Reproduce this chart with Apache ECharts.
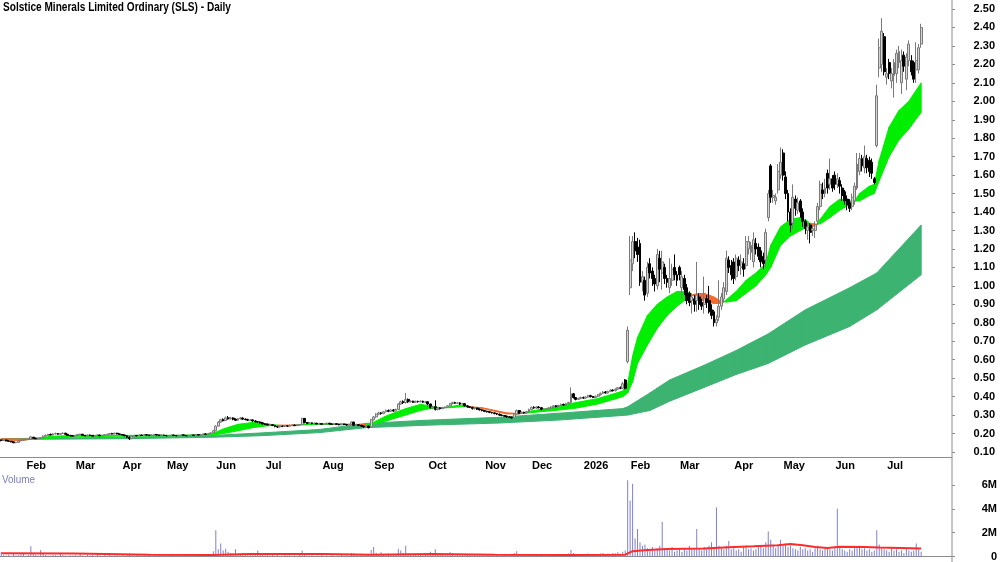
<!DOCTYPE html>
<html>
<head>
<meta charset="utf-8">
<title>Solstice Minerals Limited Ordinary (SLS) - Daily</title>
<script src="https://cdn.jsdelivr.net/npm/echarts@6/dist/echarts.min.js"></script>
<style>
html, body { margin: 0; padding: 0; background: #fff; }
#chart { width: 1000px; height: 562px; }
</style>
</head>
<body>
<div id="chart"></div>
<script>
// trading calendar (weekdays less ASX holidays and days with no trades)
var startDay = '2025-01-20';
var endDay = '2026-07-22';
var holidays = ['2025-01-27', '2025-04-18', '2025-04-21', '2025-04-25', '2025-06-09', '2025-12-25', '2025-12-26',
    '2026-01-01', '2026-01-26', '2026-04-03', '2026-04-06', '2026-06-08'];
var noTrade = ['2025-03-12', '2025-03-25', '2025-04-15', '2025-05-07', '2025-05-21', '2025-11-12', '2026-01-02'];
var padDays = 12; // empty room on the right of the last bar

var monthNames = ['Jan', 'Feb', 'Mar', 'Apr', 'May', 'Jun', 'Jul', 'Aug', 'Sep', 'Oct', 'Nov', 'Dec'];

// daily bars: [open, close, low, high]
var candles = [
    // Jan 2025
    [0.165,0.162,0.158,0.168],[0.162,0.165,0.160,0.168],[0.165,0.160,0.158,0.166],[0.160,0.158,0.155,0.162],[0.158,0.155,0.152,0.160],
    [0.155,0.150,0.148,0.156],[0.150,0.152,0.148,0.155],[0.152,0.160,0.150,0.162],[0.160,0.165,0.158,0.168],
    // Feb
    [0.165,0.166,0.162,0.170],[0.166,0.168,0.164,0.170],[0.168,0.170,0.165,0.172],[0.170,0.182,0.168,0.185],[0.180,0.175,0.172,0.182],
    [0.175,0.172,0.170,0.178],[0.172,0.175,0.170,0.178],[0.175,0.178,0.172,0.180],[0.178,0.186,0.176,0.190],[0.186,0.190,0.184,0.195],
    [0.190,0.195,0.188,0.198],[0.195,0.192,0.190,0.200],[0.192,0.198,0.190,0.202],[0.198,0.200,0.195,0.205],[0.200,0.196,0.193,0.202],
    [0.196,0.200,0.194,0.203],[0.200,0.202,0.197,0.206],[0.202,0.196,0.194,0.204],[0.196,0.190,0.188,0.198],[0.190,0.188,0.185,0.193],
    // Mar
    [0.188,0.186,0.183,0.190],[0.186,0.190,0.184,0.192],[0.190,0.195,0.188,0.198],[0.195,0.196,0.192,0.199],[0.196,0.190,0.188,0.198],
    [0.190,0.188,0.185,0.192],[0.188,0.192,0.186,0.194],[0.192,0.190,0.187,0.194],[0.190,0.186,0.184,0.192],[0.186,0.190,0.184,0.192],
    [0.190,0.192,0.188,0.195],[0.192,0.188,0.186,0.194],[0.188,0.190,0.186,0.193],[0.190,0.194,0.188,0.196],[0.194,0.196,0.192,0.198],
    [0.196,0.200,0.194,0.203],[0.200,0.198,0.195,0.204],[0.198,0.202,0.196,0.205],[0.202,0.198,0.195,0.204],
    // Apr
    [0.198,0.195,0.192,0.200],[0.195,0.192,0.190,0.197],[0.192,0.188,0.185,0.194],[0.188,0.180,0.175,0.190],[0.180,0.172,0.165,0.185],
    [0.172,0.185,0.170,0.188],[0.185,0.190,0.183,0.192],[0.190,0.188,0.185,0.192],[0.188,0.192,0.186,0.194],[0.192,0.190,0.188,0.194],
    [0.190,0.194,0.188,0.196],[0.194,0.192,0.189,0.196],[0.192,0.190,0.188,0.194],[0.190,0.192,0.188,0.195],[0.192,0.195,0.190,0.197],
    [0.195,0.192,0.190,0.197],[0.192,0.190,0.188,0.194],[0.190,0.192,0.188,0.195],
    // May
    [0.192,0.190,0.188,0.194],[0.190,0.188,0.186,0.192],[0.188,0.190,0.186,0.192],[0.190,0.192,0.188,0.194],[0.192,0.190,0.188,0.194],
    [0.190,0.188,0.186,0.192],[0.188,0.190,0.186,0.193],[0.190,0.193,0.188,0.195],[0.193,0.190,0.188,0.195],[0.190,0.188,0.186,0.192],
    [0.188,0.190,0.186,0.192],[0.190,0.192,0.188,0.194],[0.192,0.190,0.188,0.194],[0.190,0.194,0.188,0.196],[0.194,0.192,0.190,0.196],
    [0.192,0.195,0.190,0.197],[0.195,0.198,0.193,0.200],[0.198,0.196,0.194,0.201],[0.196,0.200,0.195,0.202],[0.200,0.204,0.198,0.206],
    // Jun
    [0.204,0.215,0.202,0.220],[0.215,0.240,0.212,0.245],[0.240,0.262,0.238,0.268],[0.262,0.275,0.258,0.280],[0.275,0.270,0.265,0.282],
    [0.270,0.285,0.268,0.292],[0.285,0.280,0.275,0.295],[0.280,0.284,0.276,0.290],[0.284,0.278,0.272,0.288],[0.278,0.272,0.268,0.282],
    [0.272,0.280,0.270,0.284],[0.280,0.284,0.276,0.290],[0.284,0.278,0.274,0.288],[0.278,0.276,0.272,0.282],[0.276,0.272,0.268,0.280],
    [0.272,0.274,0.268,0.278],[0.274,0.268,0.264,0.276],[0.268,0.264,0.260,0.272],[0.264,0.262,0.258,0.268],[0.262,0.258,0.254,0.266],
    // Jul
    [0.258,0.252,0.248,0.262],[0.252,0.250,0.246,0.256],[0.250,0.246,0.242,0.254],[0.246,0.248,0.243,0.252],[0.248,0.244,0.240,0.250],
    [0.244,0.238,0.234,0.246],[0.238,0.235,0.230,0.242],[0.235,0.240,0.232,0.244],[0.240,0.238,0.235,0.243],[0.238,0.242,0.236,0.245],
    [0.242,0.240,0.237,0.245],[0.240,0.244,0.238,0.248],[0.244,0.246,0.241,0.250],[0.246,0.243,0.240,0.249],[0.243,0.246,0.240,0.250],
    [0.246,0.248,0.243,0.252],[0.248,0.282,0.246,0.285],[0.282,0.260,0.255,0.284],[0.260,0.255,0.250,0.262],[0.255,0.258,0.252,0.262],
    [0.258,0.254,0.250,0.260],[0.254,0.256,0.250,0.260],[0.256,0.252,0.248,0.258],
    // Aug
    [0.252,0.254,0.248,0.258],[0.254,0.250,0.246,0.257],[0.250,0.252,0.247,0.255],[0.252,0.256,0.249,0.259],[0.256,0.252,0.248,0.258],
    [0.252,0.250,0.246,0.255],[0.250,0.253,0.247,0.256],[0.253,0.250,0.246,0.255],[0.250,0.248,0.244,0.253],[0.248,0.252,0.245,0.255],
    [0.252,0.249,0.245,0.254],[0.249,0.247,0.243,0.252],[0.247,0.250,0.244,0.253],[0.250,0.262,0.248,0.265],[0.262,0.245,0.240,0.264],
    [0.245,0.248,0.242,0.252],[0.248,0.244,0.240,0.250],[0.244,0.240,0.236,0.247],[0.240,0.236,0.232,0.243],[0.236,0.240,0.230,0.245],
    [0.240,0.232,0.228,0.244],
    // Sep
    [0.235,0.275,0.232,0.280],[0.275,0.290,0.270,0.295],[0.290,0.305,0.285,0.310],[0.305,0.312,0.300,0.318],[0.312,0.308,0.302,0.316],
    [0.308,0.318,0.305,0.322],[0.318,0.325,0.314,0.330],[0.325,0.320,0.316,0.330],[0.320,0.328,0.318,0.332],[0.328,0.322,0.318,0.332],
    [0.322,0.330,0.320,0.335],[0.330,0.360,0.328,0.365],[0.360,0.372,0.355,0.378],[0.372,0.368,0.360,0.380],[0.368,0.385,0.362,0.420],
    [0.385,0.372,0.366,0.390],[0.372,0.375,0.368,0.380],[0.375,0.370,0.366,0.378],[0.370,0.374,0.368,0.378],[0.374,0.372,0.368,0.378],
    [0.372,0.375,0.369,0.380],[0.375,0.370,0.366,0.378],
    // Oct
    [0.370,0.372,0.366,0.376],[0.372,0.360,0.355,0.375],[0.360,0.340,0.335,0.362],[0.340,0.345,0.332,0.350],[0.345,0.330,0.325,0.380],
    [0.330,0.338,0.326,0.342],[0.338,0.335,0.330,0.342],[0.335,0.340,0.332,0.344],[0.340,0.342,0.336,0.346],[0.342,0.350,0.340,0.354],
    [0.350,0.362,0.348,0.366],[0.362,0.368,0.358,0.372],[0.368,0.364,0.360,0.372],[0.364,0.366,0.360,0.370],[0.366,0.360,0.355,0.370],
    [0.360,0.362,0.356,0.366],[0.362,0.350,0.345,0.364],[0.350,0.345,0.340,0.354],[0.345,0.342,0.338,0.348],[0.342,0.335,0.330,0.345],
    [0.335,0.338,0.330,0.342],[0.338,0.332,0.328,0.340],[0.332,0.328,0.325,0.336],
    // Nov
    [0.328,0.325,0.320,0.332],[0.325,0.320,0.316,0.328],[0.320,0.318,0.314,0.324],[0.318,0.315,0.310,0.320],[0.315,0.312,0.308,0.318],
    [0.312,0.308,0.304,0.315],[0.308,0.305,0.300,0.312],[0.305,0.300,0.296,0.308],[0.300,0.298,0.294,0.304],[0.298,0.294,0.290,0.300],
    [0.294,0.290,0.286,0.298],[0.290,0.288,0.284,0.294],[0.288,0.285,0.280,0.292],[0.285,0.305,0.283,0.308],[0.305,0.325,0.300,0.330],
    [0.325,0.310,0.305,0.328],[0.310,0.315,0.306,0.320],[0.315,0.312,0.308,0.318],[0.312,0.318,0.308,0.322],
    // Dec
    [0.318,0.330,0.315,0.335],[0.330,0.342,0.326,0.346],[0.342,0.338,0.334,0.348],[0.338,0.344,0.334,0.348],[0.344,0.340,0.336,0.348],
    [0.340,0.330,0.326,0.344],[0.330,0.332,0.326,0.336],[0.332,0.335,0.328,0.338],[0.335,0.338,0.332,0.342],[0.338,0.344,0.335,0.348],
    [0.344,0.350,0.340,0.354],[0.350,0.346,0.342,0.354],[0.346,0.352,0.344,0.356],[0.352,0.358,0.350,0.362],[0.358,0.355,0.350,0.362],
    [0.355,0.362,0.352,0.366],[0.362,0.368,0.358,0.372],[0.368,0.415,0.365,0.450],[0.415,0.395,0.390,0.420],[0.395,0.385,0.380,0.398],
    [0.385,0.390,0.382,0.394],
    // Jan 2026
    [0.390,0.395,0.386,0.400],[0.395,0.392,0.388,0.400],[0.392,0.398,0.388,0.402],[0.398,0.405,0.395,0.410],[0.405,0.400,0.396,0.410],
    [0.400,0.396,0.392,0.404],[0.396,0.402,0.393,0.406],[0.402,0.410,0.398,0.414],[0.410,0.418,0.406,0.422],[0.418,0.425,0.414,0.430],
    [0.425,0.420,0.416,0.430],[0.420,0.428,0.416,0.432],[0.428,0.435,0.424,0.440],[0.435,0.432,0.428,0.440],[0.432,0.440,0.428,0.445],
    [0.440,0.448,0.436,0.452],[0.448,0.445,0.440,0.455],[0.445,0.470,0.442,0.480],[0.490,0.445,0.440,0.495],
    // Feb 2026
    [0.590,0.760,0.580,0.780],[0.99,1.14,0.95,1.27],[1.12,1.24,1.08,1.27],[1.24,1.19,1.15,1.29],[1.21,1.17,1.13,1.26],
    [1.23,1.02,1.00,1.25],[1.02,1.05,0.97,1.08],[1.03,0.95,0.92,1.05],[0.96,1.10,0.94,1.13],[1.12,1.07,1.04,1.15],
    [1.08,1.04,1.00,1.10],[1.04,1.01,0.97,1.06],[1.00,1.17,0.98,1.20],[1.15,1.09,1.02,1.19],[1.07,1.13,0.98,1.19],
    [1.10,1.04,1.01,1.12],[1.04,1.02,0.99,1.06],[0.99,1.04,0.96,1.15],[1.03,1.09,1.00,1.12],[1.10,1.06,1.03,1.17],
    // Mar 2026
    [1.06,1.03,1.00,1.08],[1.10,1.06,1.03,1.11],[0.99,1.05,0.93,1.08],[1.04,0.98,0.95,1.06],[0.99,0.92,0.90,1.01],
    [0.96,0.91,0.89,0.97],[0.92,0.94,0.85,0.96],[0.93,0.90,0.86,0.95],[0.92,0.95,0.86,1.13],[0.94,0.90,0.87,0.96],
    [0.91,0.89,0.87,0.93],[0.90,0.93,0.85,1.05],[0.93,0.91,0.88,0.95],[0.92,0.86,0.85,1.00],[0.87,0.84,0.82,0.90],
    [0.86,0.80,0.78,0.87],[0.80,0.82,0.78,0.84],[0.83,0.89,0.81,1.03],[0.89,0.94,0.87,0.96],[0.93,0.99,0.91,1.02],
    [0.97,1.15,0.95,1.19],[1.14,1.10,1.07,1.16],
    // Apr 2026
    [1.11,1.06,1.03,1.14],[1.13,1.04,1.01,1.15],[1.05,1.15,1.03,1.17],[1.14,1.11,1.08,1.16],[1.10,1.13,1.06,1.17],
    [1.12,1.09,1.05,1.15],[1.11,1.24,1.09,1.27],[1.20,1.24,1.17,1.27],[1.18,1.22,1.14,1.24],[1.13,1.25,1.10,1.29],
    [1.23,1.20,1.17,1.26],[1.21,1.16,1.14,1.23],[1.19,1.13,1.10,1.21],[1.16,1.12,1.09,1.18],[1.14,1.29,1.10,1.31],
    [1.37,1.50,1.35,1.52],[1.65,1.48,1.45,1.66],[1.48,1.49,1.45,1.52],[1.46,1.48,1.44,1.50],[1.52,1.62,1.50,1.66],
    // May 2026
    [1.60,1.67,1.58,1.75],[1.72,1.60,1.57,1.74],[1.59,1.50,1.47,1.62],[1.50,1.40,1.35,1.52],[1.40,1.33,1.29,1.42],
    [1.34,1.48,1.31,1.55],[1.47,1.42,1.38,1.49],[1.41,1.45,1.39,1.48],[1.46,1.40,1.37,1.47],[1.40,1.35,1.32,1.42],
    [1.35,1.31,1.28,1.36],[1.30,1.32,1.25,1.34],[1.33,1.29,1.23,1.34],[1.30,1.31,1.27,1.33],[1.30,1.33,1.26,1.35],
    [1.35,1.43,1.33,1.45],[1.43,1.55,1.41,1.57],[1.52,1.50,1.47,1.56],[1.50,1.53,1.48,1.58],[1.61,1.53,1.50,1.63],
    [1.55,1.58,1.52,1.69],
    // Jun 2026
    [1.58,1.53,1.51,1.60],[1.60,1.55,1.52,1.62],[1.55,1.58,1.53,1.61],[1.57,1.54,1.50,1.59],[1.53,1.49,1.46,1.55],
    [1.51,1.46,1.44,1.52],[1.47,1.44,1.41,1.49],[1.45,1.42,1.40,1.47],[1.43,1.48,1.41,1.50],[1.46,1.54,1.44,1.56],
    [1.53,1.66,1.52,1.72],[1.62,1.69,1.60,1.72],[1.69,1.65,1.62,1.71],[1.64,1.70,1.61,1.76],[1.69,1.64,1.61,1.71],
    [1.68,1.62,1.59,1.70],[1.67,1.61,1.58,1.69],[1.58,1.56,1.55,1.59],[1.76,2.03,1.75,2.09],[2.18,2.29,2.13,2.34],
    [2.20,2.38,2.16,2.45],
    // Jul 2026
    [2.35,2.16,2.14,2.37],[2.13,2.15,2.09,2.18],[2.21,2.15,2.12,2.23],[2.11,2.15,2.07,2.18],[2.14,2.21,2.02,2.23],
    [2.15,2.26,2.10,2.28],[2.21,2.27,2.18,2.30],[2.10,2.22,2.04,2.28],[2.25,2.19,2.16,2.27],[2.12,2.24,2.06,2.26],
    [2.22,2.31,2.19,2.33],[2.22,2.16,2.14,2.25],[2.21,2.12,2.10,2.22],[2.17,2.22,2.10,2.32],[2.17,2.29,2.15,2.31],
    [2.31,2.40,2.29,2.42]
];

// daily volume, thousands of shares
var volumes = [
    350,120,80,150,60,200,90,100,180,
    250,60,120,850,300,150,80,550,200,120,90,60,150,100,70,220,130,90,60,110,
    80,120,60,200,90,40,150,70,100,60,180,90,50,120,70,160,60,90,140,
    70,110,60,150,250,90,60,120,80,50,100,70,130,60,90,40,110,80,
    60,90,50,120,70,80,40,100,60,150,70,50,90,60,110,80,130,70,160,220,
    450,2200,600,1100,500,650,400,300,250,600,200,150,300,180,250,120,200,150,500,180,
    150,100,250,80,120,90,200,70,60,150,80,100,60,90,70,120,500,200,80,60,100,50,90,
    70,120,60,90,50,100,70,60,80,150,60,90,50,300,250,80,60,120,90,200,100,
    550,800,300,200,350,150,200,250,120,180,150,650,500,300,900,250,200,150,180,120,150,100,
    120,200,400,250,600,180,150,120,100,200,350,250,150,120,180,100,200,150,120,90,150,80,100,
    120,90,150,80,100,70,120,60,90,80,110,70,150,300,450,200,150,120,100,
    150,200,120,180,90,150,100,80,120,150,100,130,90,180,120,200,250,550,300,150,120,
    150,200,180,250,120,150,200,180,250,300,200,250,220,300,280,350,250,400,500,
    6400,4700,6100,1500,2300,1200,900,1000,700,600,800,500,700,900,2900,700,600,500,800,400,
    500,700,400,600,500,900,600,700,2300,700,500,800,600,900,1200,800,4100,900,700,600,900,1300,
    600,700,500,600,400,800,900,600,700,500,600,800,900,700,1200,2100,1400,900,700,1000,
    1400,900,1100,800,900,700,600,500,800,600,700,500,600,400,700,900,600,500,700,800,600,
    500,700,4000,800,600,500,400,600,500,700,800,900,600,700,500,600,400,500,2200,1000,700,
    600,500,400,700,500,600,400,500,300,600,500,400,500,1100,600,400
];

// short-term band: [bar, fast, slow]
var shortBand = [
    [0,0.165,0.172],[8,0.162,0.170],[14,0.172,0.170],[20,0.185,0.175],[30,0.190,0.182],[50,0.190,0.186],
    [70,0.190,0.188],[85,0.195,0.190],[90,0.225,0.200],[96,0.250,0.215],[102,0.260,0.232],[108,0.252,0.242],
    [112,0.245,0.245],[118,0.242,0.246],[122,0.250,0.247],[130,0.252,0.249],[138,0.250,0.251],[146,0.244,0.249],
    [150,0.255,0.248],[156,0.295,0.268],[164,0.335,0.300],[170,0.358,0.325],[174,0.350,0.335],[178,0.338,0.340],
    [182,0.345,0.340],[186,0.355,0.345],[190,0.345,0.345],[195,0.336,0.340],[205,0.306,0.312],[210,0.306,0.309],
    [214,0.320,0.312],[222,0.338,0.322],[232,0.365,0.335],[242,0.390,0.360],[252,0.430,0.400],[254,0.470,0.420],
    [256,0.620,0.480],[258,0.720,0.580],[262,0.840,0.680],[266,0.900,0.770],[270,0.940,0.840],[274,0.970,0.890],
    [278,0.970,0.930],[281,0.945,0.955],[285,0.915,0.960],[289,0.905,0.940],[292,0.905,0.915],[294,0.925,0.912],
    [298,0.970,0.920],[302,1.030,0.960],[306,1.070,1.000],[310,1.120,1.060],[312,1.220,1.100],[316,1.320,1.220],
    [320,1.360,1.270],[324,1.370,1.300],[327,1.350,1.320],[328,1.330,1.340],[330,1.320,1.335],[332,1.360,1.335],
    [336,1.430,1.370],[340,1.470,1.410],[344,1.460,1.440],[346,1.455,1.460],[348,1.500,1.460],[352,1.540,1.490],
    [354,1.550,1.500],[356,1.680,1.570],[360,1.860,1.700],[364,1.950,1.790],[368,2.000,1.850],[373,2.100,1.940]
];

// long-term band: [bar, upper, lower]
var longBand = [
    [0,0.172,0.168],[50,0.180,0.172],[86,0.190,0.180],[105,0.203,0.188],[129,0.222,0.205],[148,0.255,0.232],
    [172,0.272,0.245],[202,0.288,0.257],[226,0.310,0.273],[252,0.335,0.298],[254,0.345,0.300],[263,0.420,0.325],
    [271,0.490,0.375],[285,0.570,0.450],[298,0.650,0.520],[311,0.740,0.580],[326,0.870,0.680],[344,0.990,0.780],
    [355,1.070,0.870],[373,1.330,1.060]
];

// volume average: [bar, thousands]
var volAvg = [
    [0,280],[30,250],[60,150],[86,120],[100,200],[130,200],[150,150],[175,220],[200,150],[230,120],[253,150],
    [256,450],[262,550],[270,620],[285,680],[295,780],[305,850],[315,950],[320,1050],[325,950],[330,800],
    [335,720],[340,820],[350,800],[356,750],[373,680]
];

var priceMin = 0.1, priceMax = 2.5, priceStep = 0.1;
var volMax = 7167, volStep = 2000;

function tradingDays() {
    var out = [];
    var d = new Date(startDay + 'T00:00:00Z');
    var end = new Date(endDay + 'T00:00:00Z');
    while (d <= end) {
        var s = d.toISOString().slice(0, 10);
        var wd = d.getUTCDay();
        if (wd != 0 && wd != 6 && holidays.indexOf(s) < 0 && noTrade.indexOf(s) < 0) out.push(s);
        d.setUTCDate(d.getUTCDate() + 1);
    }
    return out;
}
var dates = tradingDays();
for (var p = 0; p < padDays; p++) dates.push('');

function isMonthStart(i) {
    if (i == 0 || !dates[i] || !dates[i - 1]) return false;
    return dates[i].slice(5, 7) != dates[i - 1].slice(5, 7);
}

// band between two lines, coloured by which line is on top
function bandRenderer(pts, upColor, downColor) {
    return function (params, api) {
        var i = params.dataIndex;
        if (i >= pts.length - 1) return;
        var a = pts[i], b = pts[i + 1];
        var d0 = a[1] - a[2], d1 = b[1] - b[2];
        var children = [];
        function quad(p, q, color) {
            var poly = [api.coord([p[0], p[1]]), api.coord([q[0], q[1]]), api.coord([q[0], q[2]]), api.coord([p[0], p[2]])];
            children.push({ type: 'polygon', shape: { points: poly }, style: { fill: color, stroke: color, lineWidth: 1 } });
        }
        if (d0 * d1 < 0) {
            var t = d0 / (d0 - d1);
            var m = [a[0] + t * (b[0] - a[0]), a[1] + t * (b[1] - a[1]), a[2] + t * (b[2] - a[2])];
            quad(a, m, d0 >= 0 ? upColor : downColor);
            quad(m, b, d1 >= 0 ? upColor : downColor);
        } else {
            quad(a, b, (d0 + d1) >= 0 ? upColor : downColor);
        }
        return { type: 'group', children: children };
    };
}

var font = '"Liberation Sans Narrow", "Arial Narrow", "Liberation Sans", Arial, sans-serif';
var axisGray = '#8c8c8c';

var myChart = echarts.init(document.getElementById('chart'));
myChart.setOption({
    animation: false,
    backgroundColor: '#ffffff',
    graphic: [
        { type: 'line', shape: { x1: 952, y1: 0, x2: 952, y2: 562 }, style: { stroke: axisGray, lineWidth: 1 } },
        // title drawn narrow, like the original condensed face
        { type: 'text', x: 3, y: 2, scaleX: 0.84, style: { text: 'Solstice Minerals Limited Ordinary (SLS) - Daily', fill: '#000', font: 'bold 12px ' + font } },
        { type: 'text', x: 2, y: 474, scaleX: 0.9, style: { text: 'Volume', fill: '#7b7bc8', font: '11px ' + font } }
    ],
    grid: [
        { left: 0, top: 9, width: 952, height: 443 },
        { left: 0, top: 471, width: 952, height: 86 }
    ],
    xAxis: [
        {
            type: 'category', gridIndex: 0, data: dates, offset: 5,
            axisLine: { lineStyle: { color: axisGray } },
            axisTick: { length: 14, interval: isMonthStart, lineStyle: { color: axisGray } },
            axisLabel: {
                interval: isMonthStart, margin: 3, align: 'left', padding: [0, 0, 0, 3],
                fontFamily: font, fontSize: 11, fontWeight: 'bold', color: '#000',
                formatter: function (v) {
                    if (!v) return '';
                    var m = +v.slice(5, 7);
                    return m == 1 ? v.slice(0, 4) : monthNames[m - 1];
                }
            },
            splitLine: { show: false }
        },
        {
            type: 'category', gridIndex: 1, data: dates, position: 'top',
            axisLine: { lineStyle: { color: axisGray } },
            axisTick: { show: false }, axisLabel: { show: false }, splitLine: { show: false }
        }
    ],
    yAxis: [
        {
            type: 'value', gridIndex: 0, position: 'right',
            min: priceMin, max: priceMax, interval: priceStep,
            axisLine: { show: false },
            axisTick: { show: true, length: 3, lineStyle: { color: axisGray } },
            axisLabel: {
                margin: 43, align: 'right', fontFamily: font, fontSize: 11, fontWeight: 'bold', color: '#000',
                formatter: function (v) { return v.toFixed(2); }
            },
            splitLine: { show: false }
        },
        {
            type: 'value', gridIndex: 1, position: 'right',
            min: 0, max: volMax, interval: volStep,
            axisLine: { show: false },
            axisTick: { show: true, length: 3, lineStyle: { color: axisGray } },
            axisLabel: {
                margin: 45, align: 'right', showMaxLabel: false, fontFamily: font, fontSize: 11, fontWeight: 'bold', color: '#000',
                formatter: function (v) { return v == 0 ? '0' : (v / 1000) + 'M'; }
            },
            splitLine: { show: false }
        }
    ],
    series: [
        {
            name: 'long band', type: 'custom', xAxisIndex: 0, yAxisIndex: 0, z: 1,
            renderItem: bandRenderer(longBand, '#3cb371', '#3cb371'),
            encode: { x: 0, y: [1, 2] }, data: longBand
        },
        {
            name: 'short band', type: 'custom', xAxisIndex: 0, yAxisIndex: 0, z: 2,
            renderItem: bandRenderer(shortBand, '#00ee00', '#f26a2e'),
            encode: { x: 0, y: [1, 2] }, data: shortBand
        },
        {
            name: 'SLS', type: 'candlestick', xAxisIndex: 0, yAxisIndex: 0, z: 3,
            barWidth: 2.4,
            itemStyle: { color: '#d4d4d4', color0: '#000000', borderColor: '#7a7a7a', borderColor0: '#000000', borderWidth: 1 },
            data: candles
        },
        {
            name: 'Volume', type: 'bar', xAxisIndex: 1, yAxisIndex: 1,
            barWidth: 1, itemStyle: { color: '#7f7fd2' },
            data: volumes
        },
        {
            name: 'Volume avg', type: 'line', xAxisIndex: 1, yAxisIndex: 1, z: 4,
            symbol: 'none', lineStyle: { color: '#ff2a2a', width: 2 },
            data: volAvg
        }
    ]
});
</script>
</body>
</html>
